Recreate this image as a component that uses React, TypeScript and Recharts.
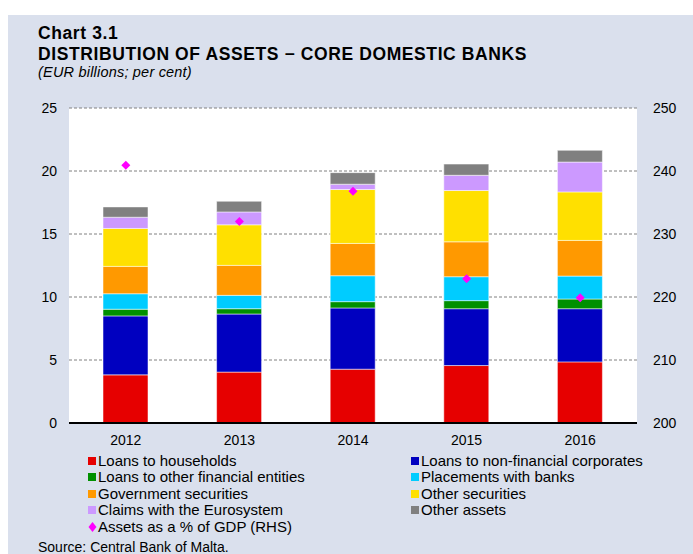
import {
  ComposedChart,
  Bar,
  Line,
  XAxis,
  YAxis,
  CartesianGrid,
} from "recharts";

const years = ["2012", "2013", "2014", "2015", "2016"];
const households = [3.82, 4.04, 4.27, 4.56, 4.85];
const corporates = [4.68, 4.61, 4.86, 4.51, 4.22];
const otherFinancial = [0.53, 0.42, 0.5, 0.64, 0.77];
const placements = [1.23, 1.06, 2.06, 1.9, 1.82];
const government = [2.17, 2.38, 2.56, 2.77, 2.83];
const otherSecurities = [3.01, 3.22, 4.28, 4.07, 3.85];
const eurosystem = [0.89, 1.02, 0.42, 1.21, 2.37];
const otherAssets = [0.82, 0.85, 0.92, 0.89, 0.93];
const assetsGdp = [240.9, 232.0, 236.8, 222.9, 219.9];

const leftTicks = [0, 5, 10, 15, 20, 25];
const rightTicks = [200, 210, 220, 230, 240, 250];

const series = [
  { key: "households", name: "Loans to households", color: "#e60000", values: households },
  { key: "corporates", name: "Loans to non-financial corporates", color: "#0000c0", values: corporates },
  { key: "otherFinancial", name: "Loans to other financial entities", color: "#009000", values: otherFinancial },
  { key: "placements", name: "Placements with banks", color: "#00ccff", values: placements },
  { key: "government", name: "Government securities", color: "#ff9900", values: government },
  { key: "otherSecurities", name: "Other securities", color: "#ffe000", values: otherSecurities },
  { key: "eurosystem", name: "Claims with the Eurosystem", color: "#cc99ff", values: eurosystem },
  { key: "otherAssets", name: "Other assets", color: "#808080", values: otherAssets },
];

const data = years.map((year, i) => {
  const row: Record<string, number | string> = { year, gdp: assetsGdp[i] };
  series.forEach((s) => {
    row[s.key] = s.values[i];
  });
  return row;
});

const font = "'Liberation Sans', Arial, sans-serif";

function Diamond(props: any) {
  const { cx, cy } = props;
  if (cx == null || cy == null) return null;
  const r = 4.5;
  return (
    <polygon
      points={`${cx},${cy - r} ${cx + r},${cy} ${cx},${cy + r} ${cx - r},${cy}`}
      fill="#ff00ff"
    />
  );
}

export default function App() {
  const legendLeft = [series[0], series[2], series[4], series[6]];
  const legendRight = [series[1], series[3], series[5], series[7]];

  return (
    <div
      style={{
        position: "absolute",
        left: 0,
        top: 0,
        width: 693,
        height: 554,
        background: "#ffffff",
        fontFamily: font,
        overflow: "hidden",
      }}
    >
      <div
        style={{
          position: "absolute",
          left: 8,
          top: 15,
          width: 685,
          height: 539,
          background: "#dae0ed",
        }}
      />
      {/* title block */}
      <div style={{ position: "absolute", left: 38, top: 23.4, fontSize: 17.5, lineHeight: "20px", letterSpacing: 0.6, fontWeight: "bold", color: "#000" }}>
        Chart 3.1
      </div>
      <div style={{ position: "absolute", left: 38, top: 43.8, fontSize: 17.5, lineHeight: "20px", letterSpacing: 0.6, fontWeight: "bold", color: "#000", whiteSpace: "nowrap" }}>
        DISTRIBUTION OF ASSETS − CORE DOMESTIC BANKS
      </div>
      <div style={{ position: "absolute", left: 38, top: 64.2, fontSize: 14.5, lineHeight: "16px", letterSpacing: 0.2, fontStyle: "italic", color: "#000" }}>
        (EUR billions; per cent)
      </div>

      <div style={{ position: "absolute", left: 0, top: 0 }}>
        <ComposedChart
          width={693}
          height={554}
          data={data}
          margin={{ top: 108, right: 0, bottom: 0, left: 0 }}
          barCategoryGap={0}
        >
          <CartesianGrid
            yAxisId="left"
            vertical={false}
            fill="#ffffff"
            stroke="#808080"
            strokeDasharray="3 2"
          />
          <XAxis
            dataKey="year"
            axisLine={{ stroke: "#000", strokeWidth: 2 }}
            tickLine={false}
            tickSize={0}
            tickMargin={12}
            height={131}
            tick={{ fill: "#000", fontSize: 14, fontFamily: font }}
          />
          <YAxis
            yAxisId="left"
            orientation="left"
            width={69}
            domain={[0, 25]}
            ticks={leftTicks}
            axisLine={false}
            tickLine={false}
            tickSize={0}
            tickMargin={12}
            tick={{ fill: "#000", fontSize: 14, fontFamily: font }}
          />
          <YAxis
            yAxisId="right"
            orientation="right"
            width={56}
            domain={[200, 250]}
            ticks={rightTicks}
            axisLine={false}
            tickLine={false}
            tickSize={0}
            tickMargin={16}
            tick={{ fill: "#000", fontSize: 14, fontFamily: font, textAnchor: "start" }}
          />
          {series.map((s) => (
            <Bar
              key={s.key}
              yAxisId="left"
              dataKey={s.key}
              name={s.name}
              stackId="a"
              fill={s.color}
              stroke="rgba(255,255,255,0.5)"
              strokeWidth={1}
              barSize={45}
              isAnimationActive={false}
            />
          ))}
          <Line
            yAxisId="right"
            dataKey="gdp"
            name="Assets as a % of GDP (RHS)"
            stroke="none"
            dot={<Diamond />}
            activeDot={false}
            isAnimationActive={false}
          />
        </ComposedChart>
      </div>

      {legendLeft.map((s, i) => (
        <LegendItem key={s.key} x={88} y={452.5 + i * 16.5} color={s.color} label={s.name} />
      ))}
      {legendRight.map((s, i) => (
        <LegendItem key={s.key} x={411} y={452.5 + i * 16.5} color={s.color} label={s.name} />
      ))}
      <div
        style={{
          position: "absolute",
          left: 88,
          top: 452.5 + 4 * 16.5,
          fontSize: 15,
          lineHeight: "16px",
          color: "#000",
          display: "flex",
          alignItems: "center",
          whiteSpace: "nowrap",
        }}
      >
        <svg width={9} height={10} style={{ marginRight: 1 }}>
          <polygon points="4.5,0 8.5,5 4.5,10 0.5,5" fill="#ff00ff" />
        </svg>
        Assets as a % of GDP (RHS)
      </div>
      <div style={{ position: "absolute", left: 38, top: 540, fontSize: 14, lineHeight: "14px", color: "#000" }}>
        Source: Central Bank of Malta.
      </div>
    </div>
  );
}

function LegendItem({ x, y, color, label }: { x: number; y: number; color: string; label: string }) {
  return (
    <div
      style={{
        position: "absolute",
        left: x,
        top: y,
        fontSize: 15,
        lineHeight: "16px",
        color: "#000",
        display: "flex",
        alignItems: "center",
        whiteSpace: "nowrap",
      }}
    >
      <span style={{ display: "inline-block", width: 8, height: 8, background: color, marginRight: 2 }} />
      {label}
    </div>
  );
}
